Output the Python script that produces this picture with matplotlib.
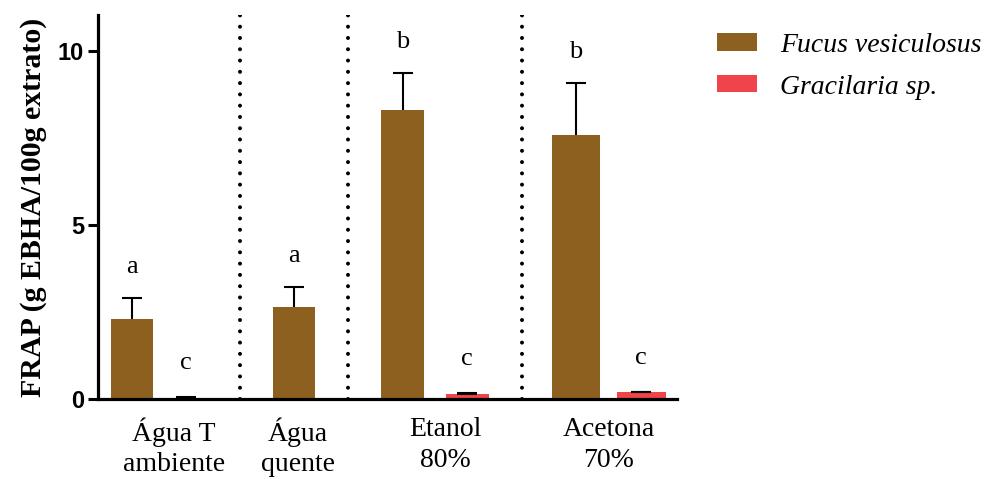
import numpy as np
import matplotlib
matplotlib.use("Agg")
import matplotlib.pyplot as plt
from matplotlib.patches import Patch

# FRAP antioxidant activity by extraction solvent
solvents = ["Água T\nambiente", "Água\nquente", "Etanol\n80%", "Acetona\n70%"]
species = ["Fucus vesiculosus", "Gracilaria sp."]

fucus_mean = [2.30, 2.66, 8.30, 7.60]
fucus_sd = [0.60, 0.57, 1.07, 1.49]
gracilaria_mean = [0.03, np.nan, 0.15, 0.20]
gracilaria_sd = [0.02, np.nan, 0.02, 0.01]

fucus_letters = ["a", "a", "b", "b"]
gracilaria_letters = ["c", "", "c", "c"]

# slot layout along the x axis
fucus_x = [0.0, 3.0, 5.01, 8.22]
gracilaria_x = [1.0, 4.0, 6.21, 9.43]
separator_x = [2.0, 4.0, 7.22]
label_x = [0.78, 3.07, 5.81, 8.83]
bar_widths = [0.79, 0.79, 0.79, 0.9]

brown = "#8E6020"
red = "#F0434A"

serif = "Liberation Serif"
sans = "Liberation Sans"

fig = plt.figure(figsize=(9.98, 4.79), dpi=100)
ax = fig.add_axes([0.0982, 0.167, 0.58, 0.802])

# Fucus: symmetric SD drawn behind the bars so only the upper half shows
ax.errorbar(fucus_x, fucus_mean, yerr=fucus_sd, fmt="none",
            ecolor="black", elinewidth=1.5, capsize=7.5, capthick=1.5, zorder=1.5)
ax.bar(fucus_x, fucus_mean, width=bar_widths, color=brown, zorder=2)

gx = [x for x, m in zip(gracilaria_x, gracilaria_mean) if not np.isnan(m)]
gm = [m for m in gracilaria_mean if not np.isnan(m)]
gs = [s for s in gracilaria_sd if not np.isnan(s)]
gw = [w for w, m in zip(bar_widths, gracilaria_mean) if not np.isnan(m)]
ax.bar(gx, gm, width=gw, color=red, zorder=2)
ax.errorbar(gx, gm, yerr=[np.zeros(len(gs)), gs], fmt="none",
            ecolor="black", elinewidth=1.5, capsize=7.5, capthick=1.5, zorder=3)

# significance letters above each bar
for x, m, s, t in zip(fucus_x, fucus_mean, fucus_sd, fucus_letters):
    ax.annotate(t, (x, m + s), xytext=(0, 18), textcoords="offset points",
                ha="center", va="baseline", fontsize=19, family=serif)
for x, m, s, t in zip(gracilaria_x, gracilaria_mean, gracilaria_sd, gracilaria_letters):
    if t and not np.isnan(m):
        ax.annotate(t, (x, m + s), xytext=(0, 20), textcoords="offset points",
                    ha="center", va="baseline", fontsize=19, family=serif)

# dotted separators between solvents
for x in separator_x:
    ax.axvline(x, color="black", lw=2.9, linestyle=(0, (0.001, 2.8)),
               dash_capstyle="round", zorder=1)

ax.set_xlim(-0.63, 10.09)
ax.set_ylim(0, 11.05)
ax.set_yticks([0, 5, 10])
ax.set_yticklabels(["0", "5", "10"], fontsize=17, fontweight="bold", family=sans)
ax.set_xticks(label_x)
ax.set_xticklabels(solvents, fontsize=20, family=serif, linespacing=1.3)
ax.tick_params(axis="x", length=0, pad=13)
ax.tick_params(axis="y", length=7, width=2.2, pad=3)

for side in ("top", "right"):
    ax.spines[side].set_visible(False)
for side in ("left", "bottom"):
    ax.spines[side].set_linewidth(2.3)

ax.set_ylabel("FRAP (g EBHA/100g extrato)", fontsize=21.5, fontweight="bold",
              family=serif, labelpad=8)

handles = [Patch(facecolor=brown, label=species[0]),
           Patch(facecolor=red, label=species[1])]
fig.legend(handles=handles, loc="upper left", bbox_to_anchor=(0.699, 0.972),
           frameon=False, prop={"family": serif, "style": "italic", "size": 20},
           handlelength=1.44, handleheight=0.58, handletextpad=0.83,
           labelspacing=0.6, borderpad=0.2)

fig.savefig("out.png", dpi=100)
